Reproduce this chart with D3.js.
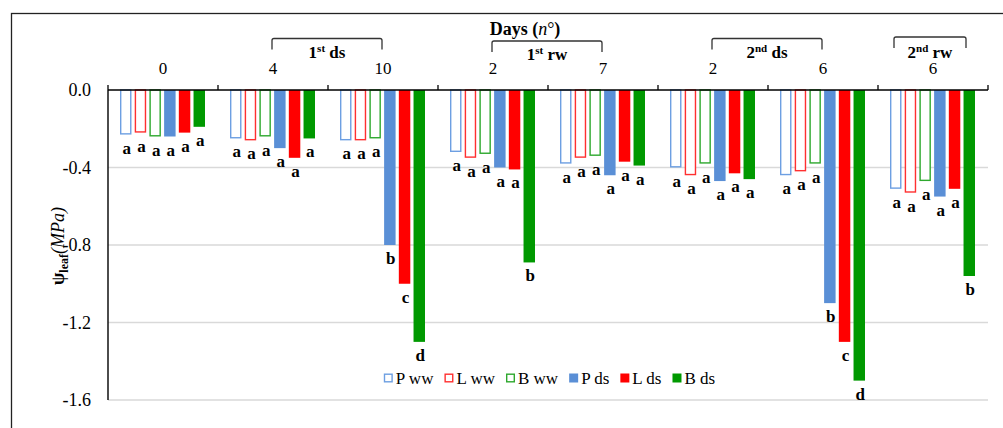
<!DOCTYPE html>
<html>
<head>
<meta charset="utf-8">
<script src="https://cdn.jsdelivr.net/npm/d3@7"></script>
<style>
  body { margin: 0; background: #fff; }
  svg { display: block; font-family: "Liberation Serif", "Times New Roman", serif; }
</style>
</head>
<body>
<svg id="chart" width="1003" height="428"></svg>
<script>
// day labels along the top axis (one per group)
const days = ["0", "4", "10", "2", "7", "2", "6", "6"];
const seriesNames = ["P ww", "L ww", "B ww", "P ds", "L ds", "B ds"];

// leaf water potential, MPa
const pWW = [-0.23, -0.25, -0.26, -0.32, -0.38, -0.40, -0.44, -0.51];
const lWW = [-0.22, -0.26, -0.26, -0.35, -0.35, -0.44, -0.42, -0.53];
const bWW = [-0.24, -0.24, -0.25, -0.33, -0.34, -0.38, -0.38, -0.47];
const pDS = [-0.24, -0.30, -0.80, -0.40, -0.44, -0.47, -1.10, -0.55];
const lDS = [-0.22, -0.35, -1.00, -0.41, -0.37, -0.43, -1.30, -0.51];
const bDS = [-0.19, -0.25, -1.30, -0.89, -0.39, -0.46, -1.50, -0.96];

// significance letters
const pWWsig = ["a", "a", "a", "a", "a", "a", "a", "a"];
const lWWsig = ["a", "a", "a", "a", "a", "a", "a", "a"];
const bWWsig = ["a", "a", "a", "a", "a", "a", "a", "a"];
const pDSsig = ["a", "a", "b", "a", "a", "a", "b", "a"];
const lDSsig = ["a", "a", "c", "a", "a", "a", "c", "a"];
const bDSsig = ["a", "a", "d", "b", "a", "a", "d", "b"];

const yTicks = [0, -0.4, -0.8, -1.2, -1.6];

// phases marked with brackets above the day labels
const phases = [
  { num: "1", sup: "st", rest: " ds", from: 1, to: 2 },
  { num: "1", sup: "st", rest: " rw", from: 3, to: 4 },
  { num: "2", sup: "nd", rest: " ds", from: 5, to: 6 },
  { num: "2", sup: "nd", rest: " rw", from: 7, to: 7 }
];

const values = [pWW, lWW, bWW, pDS, lDS, bDS];
const letters = [pWWsig, lWWsig, bWWsig, pDSsig, lDSsig, bDSsig];
const colors = ["#5a8fd6", "#ff0000", "#009900", "#5a8fd6", "#ff0000", "#009900"];
const strokes = ["#6d9fe2", "#ff3030", "#2ea82e"];
const filled = [false, false, false, true, true, true];

const svg = d3.select("#chart");
const plotLeft = 108, plotRight = 988, plotTop = 90, plotBottom = 400;

// chart frame
svg.append("rect")
  .attr("x", 11.5).attr("y", 13.5)
  .attr("width", 1003).attr("height", 430)
  .attr("fill", "none").attr("stroke", "#222").attr("stroke-width", 1.3);

const x = d3.scaleBand().domain(d3.range(days.length)).range([plotLeft, plotRight]);
const x1 = d3.scaleBand().domain(d3.range(seriesNames.length))
  .range([12, x.bandwidth() - 13]).paddingInner(0.22);
const y = d3.scaleLinear().domain([-1.6, 0]).range([plotBottom, plotTop]);

// gridlines
svg.append("g").selectAll("line")
  .data(yTicks.filter(d => d !== 0))
  .join("line")
  .attr("x1", plotLeft).attr("x2", plotRight)
  .attr("y1", d => y(d)).attr("y2", d => y(d))
  .attr("stroke", "#d9d9d9").attr("stroke-width", 1.3);

// y tick labels
svg.append("g").selectAll("text")
  .data(yTicks)
  .join("text")
  .attr("x", 91).attr("y", d => y(d))
  .attr("dy", "0.34em")
  .attr("text-anchor", "end")
  .attr("font-size", 18)
  .text(d => d3.format(".1f")(d).replace("\u2212", "-"));

// bars
const groups = svg.append("g").selectAll("g")
  .data(days.map((d, i) => i))
  .join("g")
  .attr("transform", i => `translate(${x(i)},0)`);

groups.selectAll("rect")
  .data(i => values.map((s, k) => ({ k, v: s[i], sig: letters[k][i] })))
  .join("rect")
  .attr("x", d => x1(d.k) + (filled[d.k] ? 0 : 0.7))
  .attr("y", y(0))
  .attr("width", d => x1.bandwidth() - (filled[d.k] ? 0 : 1.4))
  .attr("height", d => y(d.v) - y(0) - (filled[d.k] ? 0 : 0.7))
  .attr("fill", d => filled[d.k] ? colors[d.k] : "#fff")
  .attr("stroke", d => filled[d.k] ? "none" : strokes[d.k])
  .attr("stroke-width", 1.4);

groups.selectAll("text")
  .data(i => values.map((s, k) => ({ k, v: s[i], sig: letters[k][i] })))
  .join("text")
  .attr("x", d => x1(d.k) + x1.bandwidth() / 2 + 1)
  .attr("y", d => y(d.v) + 19)
  .attr("text-anchor", "middle")
  .attr("font-size", 17)
  .attr("font-weight", "bold")
  .text(d => d.sig);

// axes lines
svg.append("line")
  .attr("x1", plotLeft).attr("x2", plotRight).attr("y1", plotTop).attr("y2", plotTop)
  .attr("stroke", "#000").attr("stroke-width", 1.4);
svg.append("line")
  .attr("x1", plotLeft).attr("x2", plotLeft).attr("y1", plotTop).attr("y2", plotBottom)
  .attr("stroke", "#000").attr("stroke-width", 1.4);
svg.append("g").selectAll("line")
  .data(d3.range(days.length + 1))
  .join("line")
  .attr("x1", i => plotLeft + i * x.step()).attr("x2", i => plotLeft + i * x.step())
  .attr("y1", plotTop - 5).attr("y2", plotTop)
  .attr("stroke", "#000").attr("stroke-width", 1.3);

// day labels
svg.append("g").selectAll("text")
  .data(days)
  .join("text")
  .attr("x", (d, i) => x(i) + x.bandwidth() / 2)
  .attr("y", 74)
  .attr("text-anchor", "middle")
  .attr("font-size", 17)
  .text(d => d);

// title
const title = svg.append("text")
  .attr("x", 525).attr("y", 35)
  .attr("text-anchor", "middle")
  .attr("font-size", 18)
  .attr("font-weight", "bold");
title.append("tspan").text("Days (");
title.append("tspan").attr("font-style", "italic").attr("font-weight", "normal").text("n");
title.append("tspan").attr("font-weight", "normal").text("°");
title.append("tspan").text(")");

// phase brackets
phases.forEach(p => {
  const cx0 = x(p.from) + x.bandwidth() / 2;
  const cx1 = x(p.to) + x.bandwidth() / 2;
  const single = p.from === p.to;
  const x0 = single ? cx0 - 39 : cx0 - 1;
  const xe = single ? cx0 + 33 : cx1 - 1;
  const yt = single ? 37 : (p.rest === " rw" ? 41 : 38.5);
  svg.append("path")
    .attr("d", `M${x0},${yt + 11}V${yt + 2}Q${x0},${yt} ${x0 + 2},${yt}H${xe - 2}Q${xe},${yt} ${xe},${yt + 2}V${yt + 11}`)
    .attr("fill", "none").attr("stroke", "#333").attr("stroke-width", 1.3);
  const t = svg.append("text")
    .attr("x", (x0 + xe) / 2).attr("y", single ? 58 : (p.rest === " rw" ? 60 : 58))
    .attr("text-anchor", "middle")
    .attr("font-size", 17)
    .attr("font-weight", "bold");
  t.append("tspan").text(p.num);
  t.append("tspan").attr("font-size", 11).attr("dy", -6).text(p.sup);
  t.append("tspan").attr("dy", 6).text(p.rest);
});

// y axis title
const yTitle = svg.append("text")
  .attr("transform", "translate(64,246) rotate(-90)")
  .attr("text-anchor", "middle")
  .attr("font-size", 18);
yTitle.append("tspan").attr("font-weight", "bold").text("ψ");
yTitle.append("tspan").attr("font-weight", "bold").attr("font-size", 12).attr("dy", 4).text("leaf");
yTitle.append("tspan").attr("font-style", "italic").attr("dy", -4).text("(MPa)");

// legend
const legend = svg.append("g");
let lx = 0;
seriesNames.forEach((name, k) => {
  const item = legend.append("g").attr("transform", `translate(${lx},0)`);
  item.append("rect")
    .attr("x", filled[k] ? 0 : 0.7).attr("y", -4.5 + (filled[k] ? 0 : 0.7))
    .attr("width", filled[k] ? 9 : 7.6).attr("height", filled[k] ? 9 : 7.6)
    .attr("fill", filled[k] ? colors[k] : "#fff")
    .attr("stroke", filled[k] ? "none" : strokes[k])
    .attr("stroke-width", 1.4);
  const t = item.append("text")
    .attr("x", 12).attr("y", 0).attr("dy", "0.34em")
    .attr("font-size", 17)
    .text(name);
  lx += 12 + t.node().getComputedTextLength() + 11;
});
legend.attr("transform", `translate(${549.5 - (lx - 11) / 2},378)`);
</script>
</body>
</html>
